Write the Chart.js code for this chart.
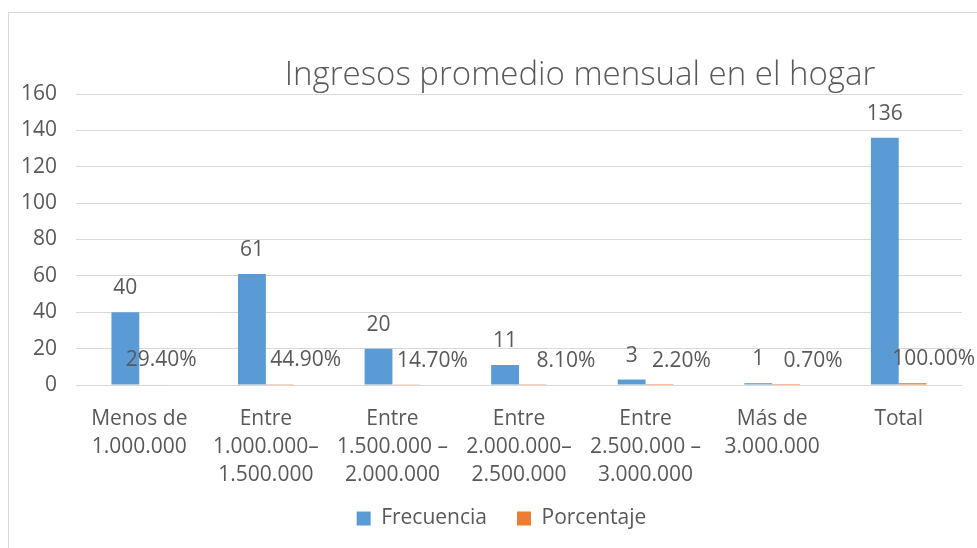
<!DOCTYPE html>
<html>
<head>
<meta charset="utf-8">
<script src="https://cdn.jsdelivr.net/npm/chart.js@4.4.1/dist/chart.umd.min.js"></script>
<style>
  html, body { margin: 0; padding: 0; background: #fff; overflow: hidden; }
  #wrap { position: absolute; left: 8px; top: 12px; width: 990px; height: 548px;
          border: 1px solid #d9d9d9; box-sizing: border-box; }
  canvas { display: block; }
</style>
</head>
<body>
<div id="wrap"><canvas id="ingresosChart"></canvas></div>
<script>
// data
const categories = [
    ['Menos de', '1.000.000'],
    ['Entre', '1.000.000–', '1.500.000'],
    ['Entre', '1.500.000 –', '2.000.000'],
    ['Entre', '2.000.000–', '2.500.000'],
    ['Entre', '2.500.000 –', '3.000.000'],
    ['Más de', '3.000.000'],
    'Total'
];
const frecuencia = [40, 61, 20, 11, 3, 1, 136];
const porcentaje = [0.294, 0.449, 0.147, 0.081, 0.022, 0.007, 1.0];
const yTicks = [0, 20, 40, 60, 80, 100, 120, 140, 160];

const FONT = '"Open Sans", "Noto Sans", sans-serif';
const TEXT = '#595959';
// sideways nudge of the percent labels, as placed in the original
const pctNudge = [8, 26, 26, 33, 22, 27, 21];

const titlePlugin = {
    id: 'titlePlugin',
    afterDraw(chart) {
        const ctx = chart.ctx;
        ctx.save();
        ctx.font = '300 33px ' + FONT;
        ctx.fillStyle = TEXT;
        ctx.textAlign = 'center';
        ctx.textBaseline = 'middle';
        ctx.fillText('Ingresos promedio mensual en el hogar', 571, 63);
        ctx.restore();
    }
};

// legend sits a bit right of centre and tighter under the axis labels in the original
const legendNudge = {
    id: 'legendNudge',
    afterLayout(chart) {
        const lg = chart.legend;
        lg.left += 16; lg.right += 16;
        lg.top -= 11; lg.bottom -= 11;
    }
};

const barLabels = {
    id: 'barLabels',
    afterDatasetsDraw(chart) {
        const ctx = chart.ctx;
        ctx.save();
        ctx.font = '21px ' + FONT;
        ctx.fillStyle = TEXT;
        ctx.textAlign = 'center';
        ctx.textBaseline = 'middle';
        chart.data.datasets.forEach((ds, i) => {
            chart.getDatasetMeta(i).data.forEach((bar, j) => {
                const v = ds.data[j];
                const txt = i === 0 ? String(v) : (v * 100).toFixed(2) + '%';
                const dx = i === 1 ? pctNudge[j] : 0;
                ctx.fillText(txt, bar.x + dx, bar.y - 24);
            });
        });
        ctx.restore();
    }
};

const ingresosChart = new Chart(document.getElementById('ingresosChart'), {
    type: 'bar',
    data: {
        labels: categories,
        datasets: [{
            label: 'Frecuencia',
            data: frecuencia,
            backgroundColor: '#5b9bd5'
        }, {
            label: 'Porcentaje',
            data: porcentaje,
            backgroundColor: '#ed7d31'
        }]
    },
    options: {
        responsive: true,
        maintainAspectRatio: false,
        animation: false,
        layout: { padding: { top: 81, right: 35, left: 0, bottom: 9 } },
        datasets: { bar: { categoryPercentage: 0.44, barPercentage: 1.0 } },
        scales: {
            x: {
                afterFit: (scale) => { scale.height = 104; },
                grid: { display: false, drawTicks: false },
                border: { display: false },
                ticks: { color: TEXT, font: { family: FONT, size: 21, lineHeight: 1.33 }, padding: 20, maxRotation: 0, autoSkip: false }
            },
            y: {
                min: 0,
                max: 160,
                afterBuildTicks: (scale) => { scale.ticks = yTicks.map(v => ({ value: v })); },
                afterFit: (scale) => { scale.width = 67; },
                grid: { color: '#d9d9d9', drawTicks: false },
                border: { display: false },
                ticks: { color: TEXT, font: { family: FONT, size: 21 }, padding: 19 }
            }
        },
        plugins: {
            title: { display: false },
            tooltip: { enabled: false },
            legend: {
                position: 'bottom',
                labels: {
                    color: TEXT,
                    font: { family: FONT, size: 21 },
                    boxWidth: 14,
                    boxHeight: 14,
                    padding: 30
                }
            }
        }
    },
    plugins: [titlePlugin, legendNudge, barLabels]
});
</script>
</body>
</html>
